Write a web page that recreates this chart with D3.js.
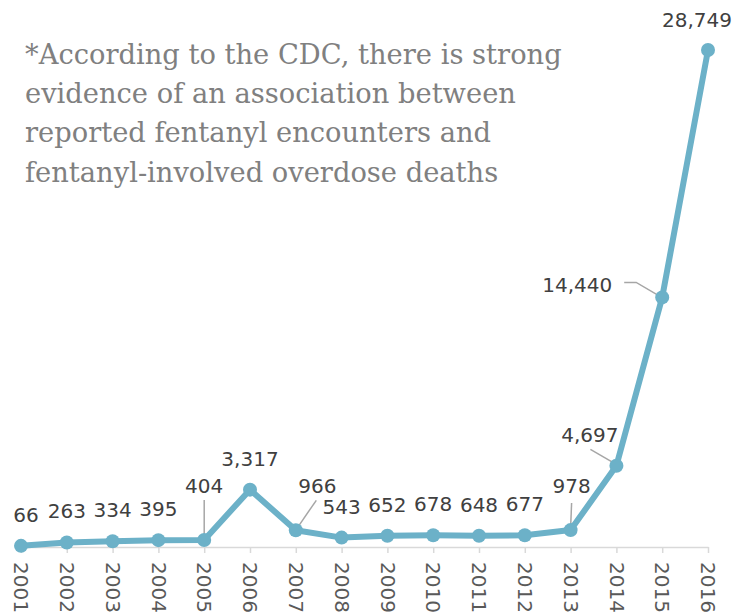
<!DOCTYPE html>
<html>
<head>
<meta charset="utf-8">
<script src="https://cdn.jsdelivr.net/npm/d3@7"></script>
<style>
  html, body { margin: 0; padding: 0; background: #fff; }
  svg { display: block; }
</style>
</head>
<body>
<svg id="chart" width="738" height="615"></svg>
<script>
// Reported fentanyl encounters by year
const years = ["2001","2002","2003","2004","2005","2006","2007","2008",
               "2009","2010","2011","2012","2013","2014","2015","2016"];
const encounters = [66, 263, 334, 395, 404, 3317, 966, 543,
                    652, 678, 648, 677, 978, 4697, 14440, 28749];

// Label nudges (dx, dy from the point) for labels that sit off-centre
const labelNudge = {
  "2001": [5, -24],
  "2005": [0, -47],
  "2007": [21.5, -37],
  "2013": [1, -37],
  "2014": [-26.5, -24],
  "2015": [-50, -5.5],
  "2016": [-11, -23.5]
};
// Leader lines for nudged labels: offsets from the point
const leaders = {
  "2005": [[0, -40], [0, -1]],
  "2007": [[20.5, -30], [0.5, -1]],
  "2013": [[1, -27], [0, -2]],
  "2014": [[-26, -16.5], [-1, -2]],
  "2015": [[-38, -15], [-26, -15], [-0.5, 0]]
};

const note = [
  "*According to the CDC, there is strong",
  "evidence of an association between",
  "reported fentanyl encounters and",
  "fentanyl-involved overdose deaths"
];

const svg = d3.select("#chart");
const lineColor = "#6cb1c8";

const x = d3.scalePoint().domain(years).range([21, 708]);
const y = d3.scaleLinear().domain([0, 30000]).range([547, 28.4]);

// Note text, sized so the first line spans the intended width
const noteG = svg.append("g")
  .attr("font-family", "'DejaVu Serif', serif")
  .attr("font-size", 28)
  .attr("fill", "#808080");
note.forEach((t, i) => {
  noteG.append("text").attr("x", 25).attr("y", 64 + i * 39.2).text(t);
});
const firstW = noteG.select("text").node().getComputedTextLength();
noteG.attr("font-size", 28 * 537 / firstW);

// X axis
const axis = d3.axisBottom(x).tickSize(6).tickSizeOuter(0).tickPadding(0);
const ax = svg.append("g").attr("transform", "translate(0,547)").call(axis);
ax.select(".domain").attr("stroke", "#d9d9d9").attr("stroke-width", 1.5);
ax.selectAll(".tick line").attr("stroke", "#d9d9d9").attr("stroke-width", 1.5);
ax.selectAll(".tick text")
  .attr("font-family", "'DejaVu Sans', Verdana, sans-serif")
  .attr("font-size", 20)
  .attr("fill", "#595959")
  .attr("text-anchor", "start")
  .attr("transform", "rotate(90)")
  .attr("x", 15)
  .attr("y", 0)
  .attr("dy", "0.36em");

const pts = years.map((yr, i) => ({ yr, v: encounters[i], px: x(yr), py: y(encounters[i]) }));

// Leader lines
const leaderLine = d3.line();
svg.append("g").selectAll("path")
  .data(pts.filter(d => leaders[d.yr]))
  .join("path")
  .attr("d", d => leaderLine(leaders[d.yr].map(([dx, dy]) => [d.px + dx, d.py + dy])))
  .attr("fill", "none")
  .attr("stroke", "#a6a6a6")
  .attr("stroke-width", 1.5);

// Series line
svg.append("path")
  .datum(pts)
  .attr("d", d3.line().x(d => d.px).y(d => d.py))
  .attr("fill", "none")
  .attr("stroke", lineColor)
  .attr("stroke-width", 6)
  .attr("stroke-linejoin", "round");

// Markers
svg.append("g").selectAll("circle")
  .data(pts)
  .join("circle")
  .attr("cx", d => d.px)
  .attr("cy", d => d.py)
  .attr("r", 7)
  .attr("fill", lineColor);

// Value labels
const fmt = d3.format(",");
svg.append("g").selectAll("text")
  .data(pts)
  .join("text")
  .attr("font-family", "'DejaVu Sans', Verdana, sans-serif")
  .attr("font-size", 20)
  .attr("fill", "#404040")
  .attr("text-anchor", d => d.yr === "2015" ? "end" : "middle")
  .attr("x", d => d.px + (labelNudge[d.yr] ? labelNudge[d.yr][0] : 0))
  .attr("y", d => d.py + (labelNudge[d.yr] ? labelNudge[d.yr][1] : -24))
  .text(d => fmt(d.v));
</script>
</body>
</html>
